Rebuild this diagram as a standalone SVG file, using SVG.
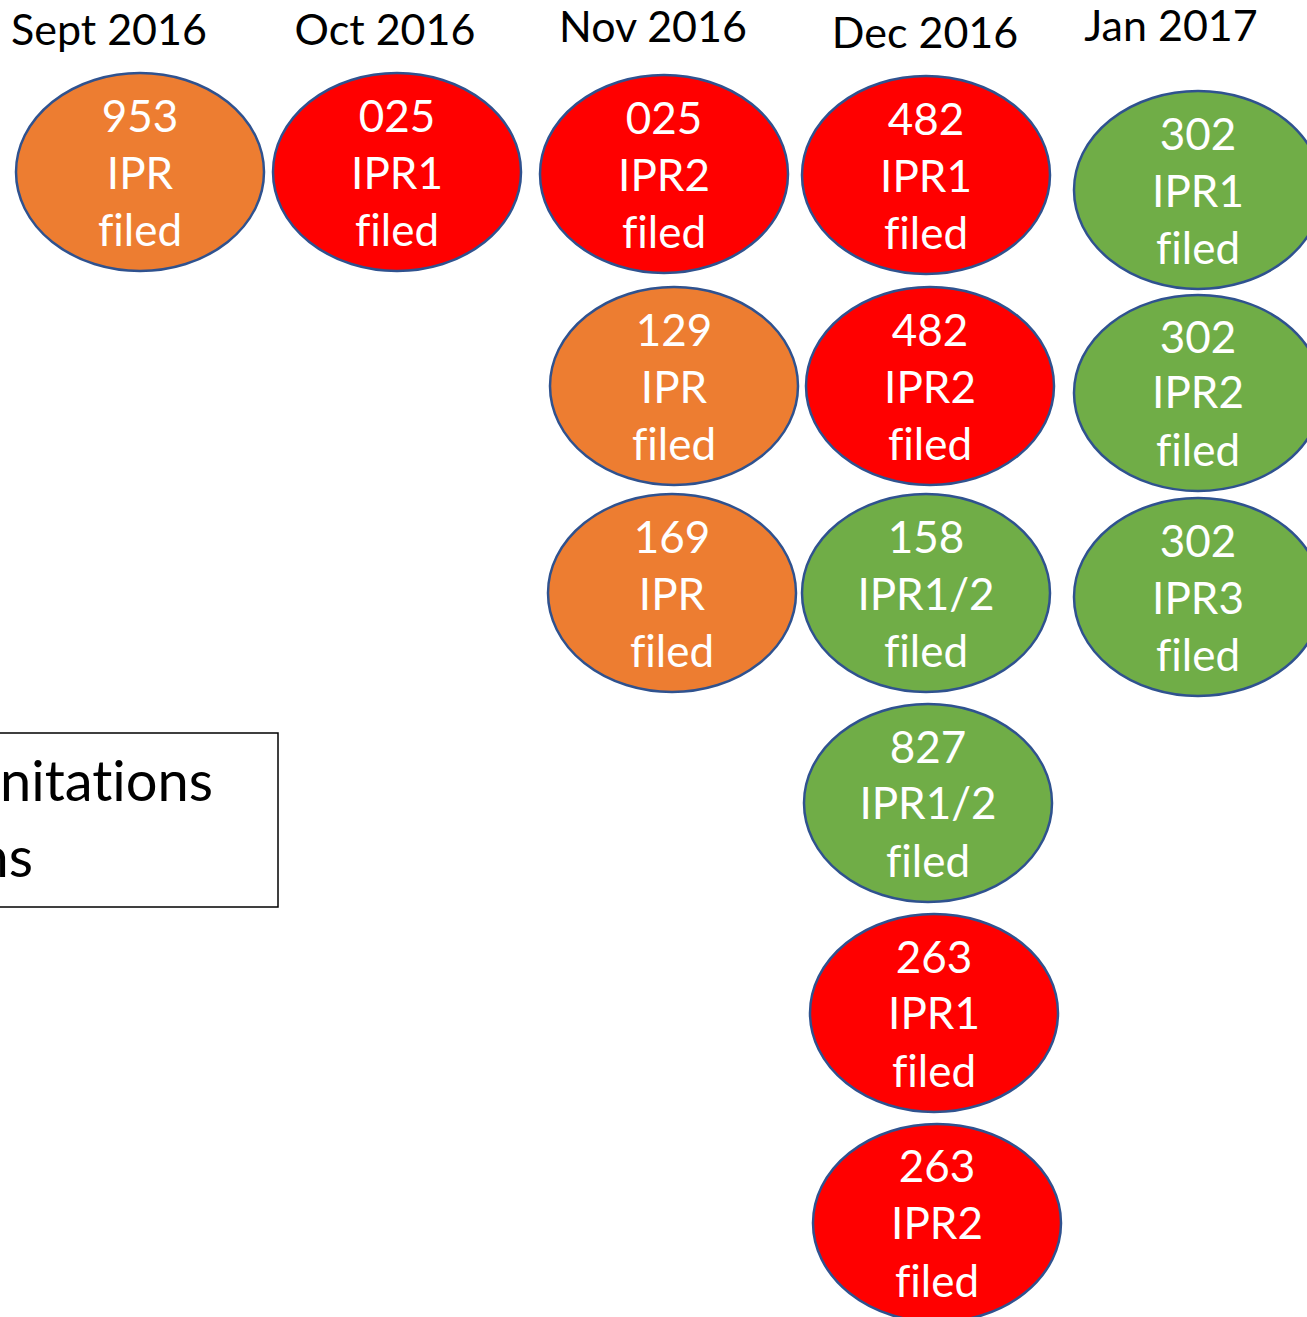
<svg xmlns="http://www.w3.org/2000/svg" width="1307" height="1317" viewBox="0 0 1307 1317">
<style>
text{font-variant-ligatures:none;font-feature-settings:"liga" 0}
.n ellipse{stroke:#2F528F;stroke-width:2.5}
.o{fill:#ED7D31}.r{fill:#FF0000}.g{fill:#70AD47}
.n text{fill:#fff;font-family:Lato,"Open Sans",sans-serif;font-size:44px;text-anchor:middle}
.h{fill:#000;font-family:Lato,"Open Sans",sans-serif;font-size:43px;text-anchor:middle}
.b{fill:#000;font-family:Lato,"Open Sans",sans-serif;font-size:56px;text-anchor:end}
</style>
<rect width="1307" height="1317" fill="#fff"/>
<g id="headers">
<text class="h" x="109" y="45">Sept 2016</text>
<text class="h" x="385" y="45">Oct 2016</text>
<text class="h" x="653" y="42">Nov 2016</text>
<text class="h" x="925" y="48">Dec 2016</text>
<text class="h" x="1171" y="41">Jan 2017</text>
</g>
<g id="box">
<rect x="-10" y="733" width="288" height="174" fill="#fff" stroke="#000" stroke-width="1.5"/>
<text class="b" x="213" y="801">nitations</text>
<text class="b" x="33" y="877">ns</text>
</g>
<g id="connectors"></g>
<g id="n953" class="n"><ellipse class="o" cx="140" cy="172" rx="124" ry="99"/><text x="140" y="132">953</text><text x="140" y="189">IPR</text><text x="140" y="246">filed</text></g>
<g id="n025a" class="n"><ellipse class="r" cx="397" cy="172" rx="124" ry="99"/><text x="397" y="132">025</text><text x="397" y="189">IPR1</text><text x="397" y="246">filed</text></g>
<g id="n025b" class="n"><ellipse class="r" cx="664" cy="174" rx="124" ry="99"/><text x="664" y="134">025</text><text x="664" y="191">IPR2</text><text x="664" y="248">filed</text></g>
<g id="n482a" class="n"><ellipse class="r" cx="926" cy="175" rx="124" ry="99"/><text x="926" y="135">482</text><text x="926" y="192">IPR1</text><text x="926" y="249">filed</text></g>
<g id="n302a" class="n"><ellipse class="g" cx="1198" cy="190" rx="124" ry="99"/><text x="1198" y="150">302</text><text x="1198" y="207">IPR1</text><text x="1198" y="264">filed</text></g>
<g id="n129" class="n"><ellipse class="o" cx="674" cy="386" rx="124" ry="99"/><text x="674" y="346">129</text><text x="674" y="403">IPR</text><text x="674" y="460">filed</text></g>
<g id="n482b" class="n"><ellipse class="r" cx="930" cy="386" rx="124" ry="99"/><text x="930" y="346">482</text><text x="930" y="403">IPR2</text><text x="930" y="460">filed</text></g>
<g id="n302b" class="n"><ellipse class="g" cx="1198" cy="393" rx="124" ry="98"/><text x="1198" y="353">302</text><text x="1198" y="408">IPR2</text><text x="1198" y="466">filed</text></g>
<g id="n169" class="n"><ellipse class="o" cx="672" cy="593" rx="124" ry="99"/><text x="672" y="553">169</text><text x="672" y="610">IPR</text><text x="672" y="667">filed</text></g>
<g id="n158" class="n"><ellipse class="g" cx="926" cy="593" rx="124" ry="99"/><text x="926" y="553">158</text><text x="926" y="610">IPR1/2</text><text x="926" y="667">filed</text></g>
<g id="n302c" class="n"><ellipse class="g" cx="1198" cy="597" rx="124" ry="99"/><text x="1198" y="557">302</text><text x="1198" y="614">IPR3</text><text x="1198" y="671">filed</text></g>
<g id="n827" class="n"><ellipse class="g" cx="928" cy="803" rx="124" ry="99"/><text x="928" y="763">827</text><text x="928" y="819">IPR1/2</text><text x="928" y="877">filed</text></g>
<g id="n263a" class="n"><ellipse class="r" cx="934" cy="1013" rx="124" ry="99"/><text x="934" y="973">263</text><text x="934" y="1029">IPR1</text><text x="934" y="1087">filed</text></g>
<g id="n263b" class="n"><ellipse class="r" cx="937" cy="1223" rx="124" ry="99"/><text x="937" y="1182">263</text><text x="937" y="1239">IPR2</text><text x="937" y="1297">filed</text></g>
</svg>
